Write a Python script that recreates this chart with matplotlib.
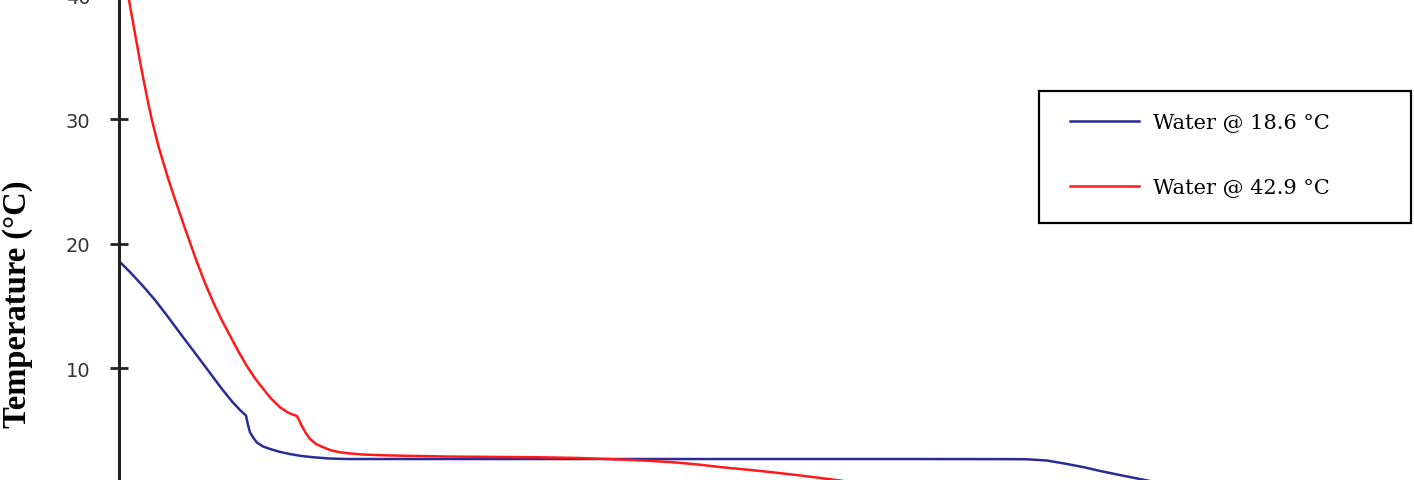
import matplotlib
matplotlib.use('Agg')
import matplotlib.pyplot as plt
from matplotlib.patches import Rectangle

# time in minutes (x axis is hidden in the crop) and temperature in deg C
t_cold = [0.0, 1.1, 2.4, 3.6, 4.8, 6.1, 7.6, 9.1, 10.3, 11.3, 12.1, 12.7,
          12.9, 13.1, 13.45, 13.77, 14.4, 15.1, 16.1, 17.1, 18.1, 19.43, 21.1, 22.8,
          40.0, 60.0, 80.0, 89.1, 90.8, 92.8, 94.8, 96.6, 98.1, 100.1, 102.1, 104.1]
temp_cold = [18.6, 17.72, 16.59, 15.47, 14.22, 12.81, 11.21, 9.60, 8.31, 7.31, 6.62, 6.18,
             5.42, 4.83, 4.37, 4.02, 3.69, 3.49, 3.25, 3.08, 2.94, 2.82, 2.72, 2.68,
             2.68, 2.68, 2.68, 2.67, 2.66, 2.56, 2.28, 2.0, 1.72, 1.39, 1.07, 0.75]

t_hot = [0.0, 0.93, 1.6, 2.27, 2.93, 3.27, 3.93, 4.43, 4.93, 5.43, 5.93, 6.6, 7.27, 7.77,
         8.6, 9.43, 10.25, 11.1, 11.93, 12.77, 13.6, 14.43, 15.25, 16.1, 16.9, 17.4, 17.77,
         18.0, 18.27, 18.65, 19.1, 19.7, 20.43, 21.2, 22.1, 23.2, 24.43, 26.1, 28.1, 32.8,
         42.1, 46.1, 50.4, 52.9, 55.4, 57.9, 60.4, 62.9, 65.4, 67.9, 70.4, 72.9, 75.0]
temp_hot = [42.9, 39.91, 36.9, 33.93, 31.28, 30.02, 27.88, 26.53, 25.2, 23.97, 22.79, 21.22,
            19.71, 18.57, 16.84, 15.28, 13.9, 12.6, 11.35, 10.18, 9.17, 8.31, 7.51, 6.84,
            6.42, 6.24, 6.16, 5.82, 5.36, 4.81, 4.29, 3.89, 3.62, 3.38, 3.22, 3.12, 3.04,
            2.99, 2.95, 2.88, 2.82, 2.76, 2.63, 2.54, 2.42, 2.24, 2.01, 1.82, 1.61, 1.38,
            1.13, 0.86, 0.62]

labels = ['Water @ 18.6 \u00b0C', 'Water @ 42.9 \u00b0C']
yticks = [10, 20, 30, 40]

W, H = 1414, 481
fig = plt.figure(figsize=(W / 100, H / 100), dpi=100)
# axes reaches a few pixels above the top so the 40 tick sits just outside, as in the crop
ax = fig.add_axes([119 / W, 0, 1 - 119 / W, 485 / H])

ax.plot(t_cold, temp_cold, color='#2b2b96', lw=1.8, solid_joinstyle='round', label=labels[0])
ax.plot(t_hot, temp_hot, color='#ff1a1a', lw=1.8, solid_joinstyle='round', label=labels[1])

ax.set_xlim(0, (W - 119) / 10)
ax.set_ylim(0.993, 40.0)

for s in ['top', 'right', 'bottom']:
    ax.spines[s].set_visible(False)
ax.spines['left'].set_linewidth(2.2)
ax.spines['left'].set_color('#222222')

ax.set_xticks([])
ax.set_yticks(yticks)
ax.tick_params(axis='y', direction='inout', length=13, width=2, color='#222222',
               pad=14, labelsize=14, labelcolor='#333333')

ax.set_ylabel('Temperature (\u00b0C)', family='Liberation Serif', fontweight='bold',
              fontsize=23.5, va='center', ha='center')
ax.yaxis.set_label_coords(-0.078, 1 - 308.5 / 485)

# legend box drawn separately so the frame can be wider than the entries
fig.add_artist(Rectangle((1039 / W, 1 - 224 / H), 372 / W, 132 / H, transform=fig.transFigure,
                         fill=False, ec='black', lw=1.6))
ax.legend(loc='upper left', bbox_to_anchor=(1070 / W, 1 - 113.8 / H), bbox_transform=fig.transFigure,
          frameon=False, borderpad=0, borderaxespad=0, handlelength=3.32, handletextpad=0.67,
          labelspacing=2.22, prop={'family': 'DejaVu Serif', 'size': 15})

fig.savefig('out.png', dpi=100)
